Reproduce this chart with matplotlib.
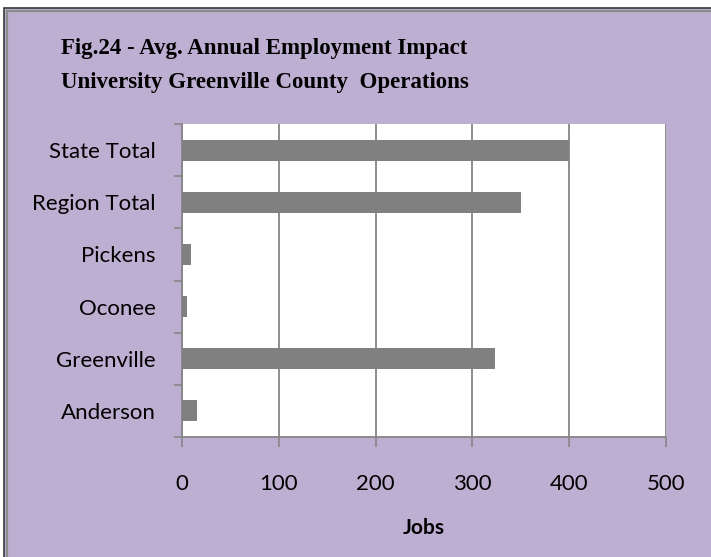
import matplotlib.pyplot as plt
from matplotlib.patches import Rectangle

# data
regions = ['Anderson', 'Greenville', 'Oconee', 'Pickens', 'Region Total', 'State Total']
jobs = [15, 323, 5, 9, 350, 400]
xticks = [0, 100, 200, 300, 400, 500]

W, H = 711, 557
bg = '#BDAFD2'
grid_c = '#868686'
bar_c = '#808080'

fig = plt.figure(figsize=(W / 100, H / 100), dpi=100)
fig.patch.set_facecolor('white')

# outer chart frame (cut off at right/bottom like the original)
fig.patches.append(Rectangle((4 / W, -0.5), 1.5, (H - 8) / H + 0.5,
                             transform=fig.transFigure, facecolor=bg,
                             edgecolor='#3a3a3a', linewidth=1.2, zorder=-10))
fig.patches.append(Rectangle((6.5 / W, -0.5), 1.5, (H - 10.5) / H + 0.5,
                             transform=fig.transFigure, facecolor='none',
                             edgecolor='#8c8c8c', linewidth=1.6, zorder=-9))

ax = fig.add_axes([182 / W, 1 - 437 / H, (666 - 182) / W, (437 - 124) / H])
ax.set_facecolor('white')

pos = list(range(len(regions)))
ax.barh(pos, jobs, height=0.4, color=bar_c, zorder=3)

ax.set_xlim(0, 500)
ax.set_ylim(-0.5, len(regions) - 0.5)

ax.set_xticks(xticks)
ax.set_xticklabels([str(v) for v in xticks], fontsize=16, family='Lato')
ax.tick_params(axis='x', direction='out', length=7, width=1.2, color=grid_c, pad=20)
ax.grid(axis='x', color=grid_c, linewidth=1.3, zorder=1)

# ticks at the category boundaries, labels at the centers
ax.set_yticks([i - 0.5 for i in range(len(regions) + 1)])
ax.set_yticklabels([])
ax.tick_params(axis='y', which='major', direction='out', length=6, width=1.2, color=grid_c)
ax.set_yticks(pos, minor=True)
ax.set_yticklabels(regions, minor=True, fontsize=16, family='Lato')
ax.tick_params(axis='y', which='minor', length=0, pad=19)

for s in ['top', 'right']:
    ax.spines[s].set_visible(False)
for s in ['left', 'bottom']:
    ax.spines[s].set_color(grid_c)
    ax.spines[s].set_linewidth(1.3)
ax.spines['bottom'].set_zorder(4)

ax.set_xlabel('Jobs', fontsize=15, fontweight='bold', family='Lato', labelpad=17)

fig.text(0.372, 1 - 65.5 / H,
         'Fig.24 - Avg. Annual Employment Impact\nUniversity Greenville County  Operations',
         ha='center', va='center', fontsize=16.5, fontweight='bold',
         family='Liberation Serif', linespacing=1.8)

fig.savefig('out.png', dpi=100)
